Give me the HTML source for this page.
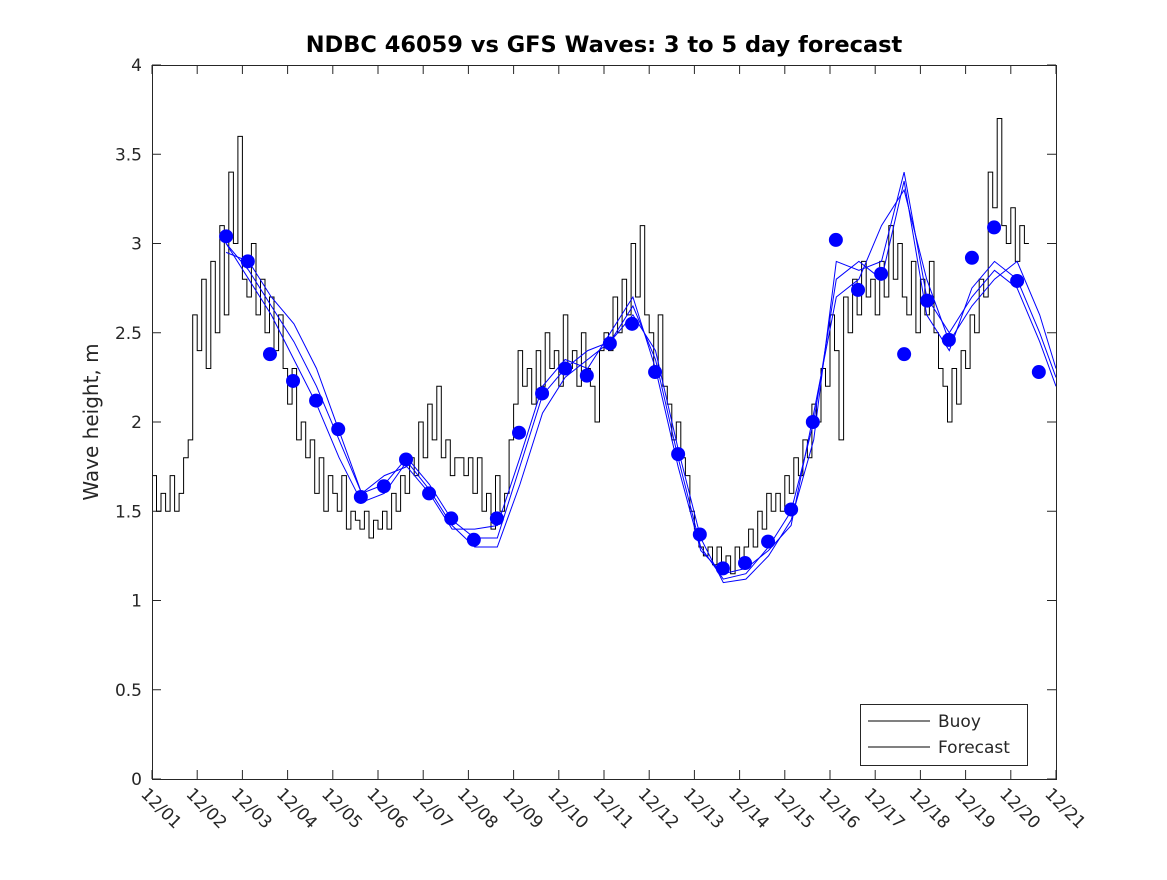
<!DOCTYPE html>
<html><head><meta charset="utf-8"><style>
body{margin:0;background:#fff}
svg text{font-family:"DejaVu Sans","Liberation Sans",sans-serif;fill:#262626}
</style></head><body>
<svg id="chart" width="1167" height="875" xmlns="http://www.w3.org/2000/svg">
<rect width="1167" height="875" fill="#fff"/>
<text x="604" y="52" text-anchor="middle" font-size="22.5" font-weight="bold" style="fill:#000">NDBC 46059 vs GFS Waves: 3 to 5 day forecast</text>
<text transform="translate(98,422) rotate(-90)" text-anchor="middle" font-size="20">Wave height, m</text>
<g id="axes"></g>
<g id="series"></g>
<rect x="152.5" y="65.5" width="904" height="714" fill="none" stroke="#262626" stroke-width="1"/>
<g>
<rect x="860.5" y="704.5" width="167" height="61" fill="#fff" stroke="#262626"/>
<g><line x1="868" y1="721" x2="930" y2="721" stroke="#000"/><text x="938" y="727" font-size="17">Buoy</text></g>
<g><line x1="868" y1="747" x2="930" y2="747" stroke="#000"/><text x="938" y="753" font-size="17">Forecast</text></g>
</g>
</svg>
<script>
const xTickLabels=["12/01","12/02","12/03","12/04","12/05","12/06","12/07","12/08","12/09","12/10","12/11","12/12","12/13","12/14","12/15","12/16","12/17","12/18","12/19","12/20","12/21"];
const yTicks=[0,0.5,1,1.5,2,2.5,3,3.5,4];
const yTickLabels=["0","0.5","1","1.5","2","2.5","3","3.5","4"];
const buoyStep=0.1;
const buoyValues=[
1.7,1.5,1.6,1.5,1.7,1.5,1.6,1.8,1.9,2.6,
2.4,2.8,2.3,2.9,2.5,3.1,2.6,3.4,3.0,3.6,
2.8,2.7,3.0,2.6,2.8,2.5,2.7,2.4,2.6,2.3,
2.1,2.3,1.9,2.0,1.8,1.9,1.6,1.8,1.5,1.7,
1.6,1.5,1.7,1.4,1.5,1.45,1.4,1.5,1.35,1.45,
1.4,1.5,1.4,1.6,1.5,1.7,1.6,1.8,1.7,2.0,
1.8,2.1,1.9,2.2,1.8,1.9,1.7,1.8,1.8,1.7,
1.8,1.6,1.8,1.5,1.6,1.4,1.7,1.5,1.6,1.9,
2.1,2.4,2.2,2.3,2.1,2.4,2.2,2.5,2.3,2.4,
2.2,2.6,2.3,2.4,2.2,2.5,2.3,2.2,2.0,2.4,
2.5,2.4,2.7,2.5,2.8,2.6,3.0,2.7,3.1,2.6,
2.5,2.3,2.6,2.2,2.1,1.9,2.0,1.8,1.7,1.5,
1.4,1.3,1.25,1.3,1.2,1.3,1.2,1.25,1.15,1.3,
1.2,1.3,1.4,1.3,1.5,1.4,1.6,1.5,1.6,1.5,
1.7,1.6,1.8,1.7,1.9,1.8,2.1,2.0,2.3,2.2,
2.6,2.4,1.9,2.7,2.5,2.8,2.6,2.9,2.7,2.8,
2.6,2.9,2.7,3.1,2.8,3.0,2.7,2.6,2.9,2.5,
2.8,2.6,2.9,2.5,2.3,2.2,2.0,2.3,2.1,2.4,
2.3,2.6,2.5,2.8,2.7,3.4,3.2,3.7,3.1,3.0,
3.2,2.9,3.1,3.0];
const dotDays=[1.64,2.12,2.61,3.12,3.63,4.12,4.62,5.13,5.62,6.13,6.62,7.12,7.63,8.12,8.63,9.14,9.62,10.13,10.62,11.13,11.64,12.12,12.63,13.12,13.63,14.14,14.62,15.13,15.62,16.13,16.64,17.15,17.63,18.14,18.63,19.14,19.62];
const dotValues=[3.04,2.90,2.38,2.23,2.12,1.96,1.58,1.64,1.79,1.60,1.46,1.34,1.46,1.94,2.16,2.30,2.26,2.44,2.55,2.28,1.82,1.37,1.18,1.21,1.33,1.51,2.00,3.02,2.74,2.83,2.38,2.68,2.46,2.92,3.09,2.79,2.28];
const fcDays=[1.64,2.14,2.64,3.14,3.64,4.14,4.64,5.14,5.64,6.14,6.64,7.14,7.64,8.14,8.64,9.14,9.64,10.14,10.64,11.14,11.64,12.14,12.64,13.14,13.64,14.14,14.64,15.14,15.64,16.14,16.64,17.14,17.64,18.14,18.64,19.14,19.64,20.0];
const fcA=[3.0,2.85,2.65,2.45,2.2,1.9,1.6,1.65,1.8,1.65,1.45,1.35,1.35,1.75,2.15,2.3,2.4,2.45,2.65,2.35,1.8,1.3,1.12,1.15,1.3,1.5,2.0,2.8,2.9,2.8,3.35,2.6,2.4,2.75,2.9,2.8,2.5,2.25];
const fcB=[3.0,2.8,2.6,2.35,2.1,1.8,1.55,1.6,1.78,1.62,1.42,1.3,1.3,1.65,2.05,2.25,2.35,2.45,2.6,2.4,1.85,1.35,1.1,1.12,1.25,1.45,1.9,2.9,2.85,2.9,3.4,2.7,2.5,2.7,2.85,2.75,2.45,2.2];
const fcC=[2.95,2.9,2.7,2.55,2.3,1.95,1.6,1.7,1.75,1.6,1.4,1.4,1.42,1.8,2.2,2.35,2.3,2.5,2.7,2.3,1.75,1.28,1.15,1.18,1.28,1.42,2.05,2.7,2.8,3.1,3.3,2.8,2.45,2.65,2.8,2.9,2.6,2.3];
const X0=152,X1=1056,Y0=779,Y1=65;
const xs=d=>X0+(X1-X0)*d/20;
const ys=v=>Y0-(Y0-Y1)*v/4;
const NS="http://www.w3.org/2000/svg";
const axes=document.getElementById('axes'),ser=document.getElementById('series');
function mk(t,a,p){const e=document.createElementNS(NS,t);for(const k in a)e.setAttribute(k,a[k]);p.appendChild(e);return e;}
xTickLabels.forEach((l,i)=>{const x=xs(i);
 const t=mk('line',{x1:x,y1:Y0,x2:x,y2:Y0-9,stroke:'#262626'},axes);
 
 
 const t2=mk('line',{x1:x,y1:Y1,x2:x,y2:Y1+9,stroke:'#262626'},axes);
 
 
 const tx=mk('text',{transform:`translate(${x-12},${795}) rotate(45)`,'font-size':'17'},axes);
 tx.textContent=l;
 
 
});
yTicks.forEach((v,i)=>{const y=ys(v);
 const t=mk('line',{x1:X0,y1:y,x2:X0+9,y2:y,stroke:'#262626'},axes);
 
 
 const t2=mk('line',{x1:X1,y1:y,x2:X1-9,y2:y,stroke:'#262626'},axes);
 
 
 const tx=mk('text',{x:X0-10,y:y+6,'text-anchor':'end','font-size':'17'},axes);
 tx.textContent=yTickLabels[i];
 
 
});
let bp=[];
buoyValues.forEach((v,i)=>{const xa=xs(i*buoyStep),xb=xs((i+1)*buoyStep),y=ys(v);bp.push(xa.toFixed(1)+','+y.toFixed(1));bp.push(xb.toFixed(1)+','+y.toFixed(1));});
const bl=mk('polyline',{points:bp.join(' '),fill:'none',stroke:'#000','stroke-width':1},ser);


[fcA,fcB,fcC].forEach((s,k)=>{
 const p=s.map((v,i)=>xs(fcDays[i]).toFixed(1)+','+ys(v).toFixed(1)).join(' ');
 const l=mk('polyline',{points:p,fill:'none',stroke:'#0000ff','stroke-width':1},ser);
 
 
});
dotDays.forEach((d,i)=>{
 const c=mk('circle',{cx:xs(d),cy:ys(dotValues[i]),r:7,fill:'#0000ff'},ser);
 
 
});
</script>
</body></html>
